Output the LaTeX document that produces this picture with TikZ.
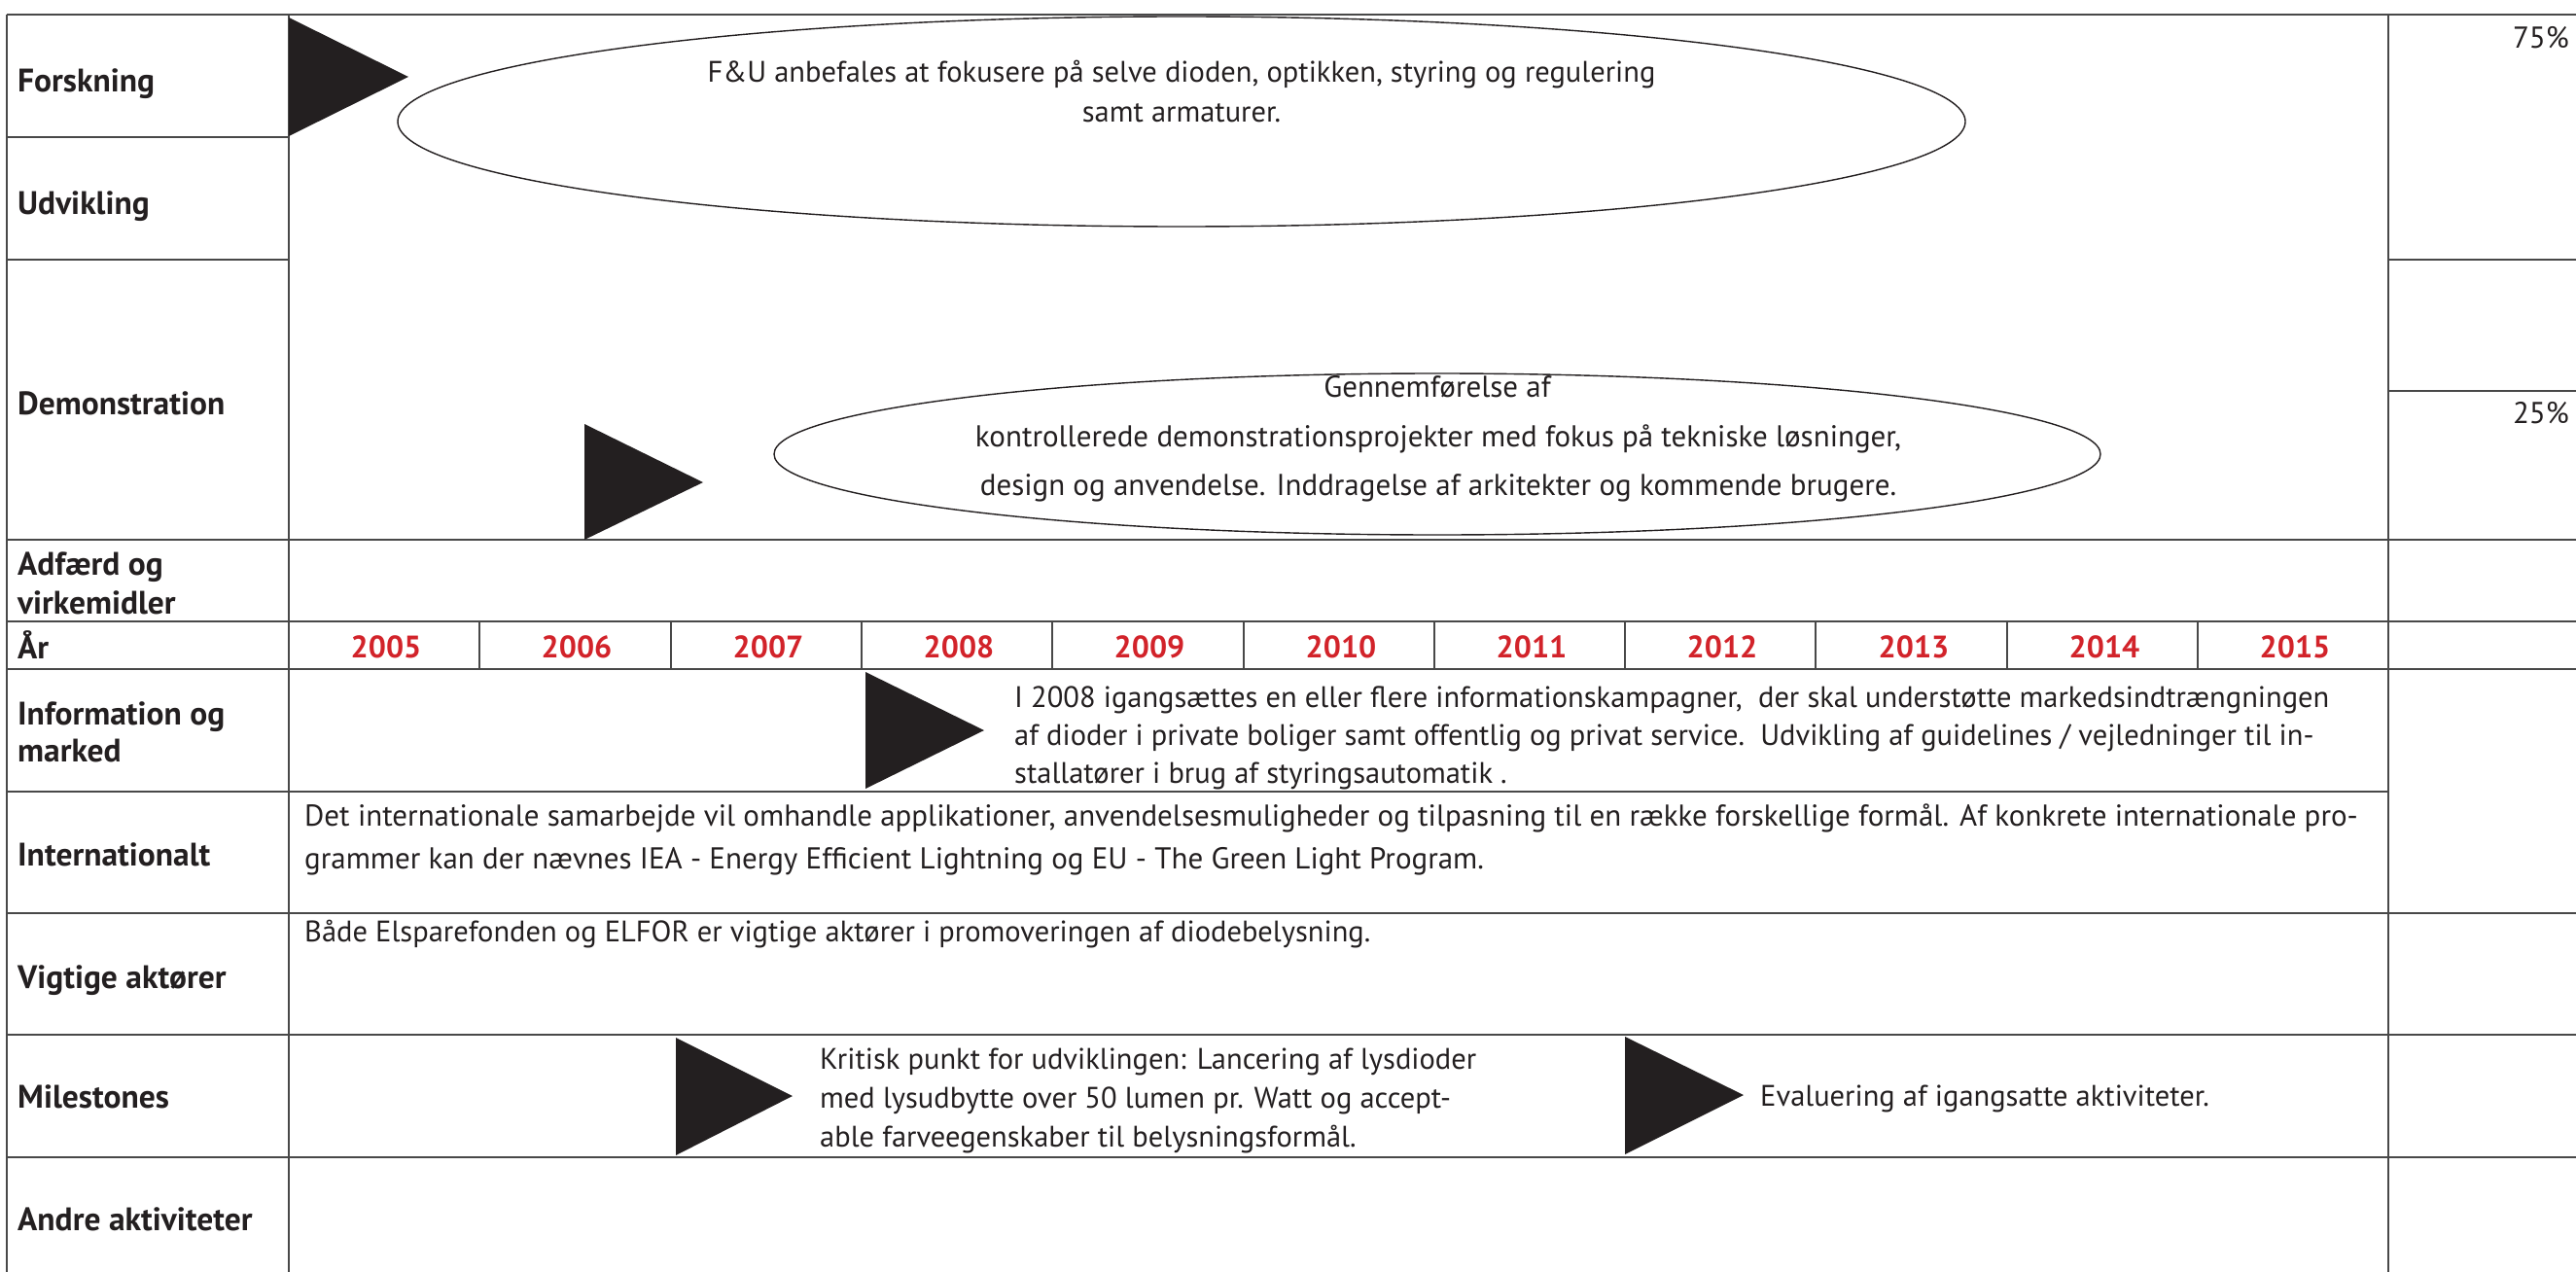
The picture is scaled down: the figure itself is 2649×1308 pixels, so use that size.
\documentclass[tikz,border=0pt]{standalone}
\usepackage{fontspec}
\setmainfont{PT Sans}
\usetikzlibrary{shapes.geometric}
\definecolor{ink}{RGB}{35,31,32}
\definecolor{rulegray}{RGB}{72,72,72}
\definecolor{yearred}{RGB}{210,35,42}

\begin{document}
\begin{tikzpicture}[x=1pt,y=-1pt,
  rulel/.style={draw=rulegray,line width=2.4pt},
  thinl/.style={draw=rulegray,line width=1.6pt},
  head/.style={anchor=base west,inner sep=0,text=ink,font=\fontsize{33.5}{33.5}\selectfont\bfseries},
  body/.style={anchor=base west,inner sep=0,text=ink,font=\fontsize{30.5}{30.5}\selectfont},
  mid/.style={body,anchor=base},
  year/.style={anchor=base,inner sep=0,text=yearred,font=\fontsize{32}{32}\selectfont\bfseries},
  bubble/.style={ellipse,draw=ink,line width=1.4pt,inner sep=0},
  flag/.style={fill=ink}]

  \useasboundingbox (0,0) rectangle (2649,1308);

  % table lines
  \draw[rulel] (7,15) -- (2649,15);
  \draw[rulel] (7,141) -- (297,141);
  \draw[rulel] (7,267) -- (297,267) (2456,267) -- (2649,267);
  \draw[rulel] (2456,402) -- (2649,402);
  \draw[rulel] (7,555) -- (2649,555) (7,639) -- (2649,639) (7,688) -- (2649,688);
  \draw[rulel] (7,814) -- (2456,814);
  \draw[rulel] (7,939) -- (2649,939) (7,1064) -- (2649,1064) (7,1190) -- (2649,1190);
  \draw[thinl] (7,15) -- (7,1308) (297,15) -- (297,1308) (2456,15) -- (2456,1308);
  \draw[thinl] (493,639) -- (493,688) (690,639) -- (690,688) (886,639) -- (886,688)
               (1082,639) -- (1082,688) (1279,639) -- (1279,688) (1475,639) -- (1475,688)
               (1671,639) -- (1671,688) (1867,639) -- (1867,688) (2064,639) -- (2064,688)
               (2260,639) -- (2260,688);

  % row headings
  \node[head] (forsk) at (18,95)   {Forskning};
  \node[head] (udv)   at (18,221)  {Udvikling};
  \node[head] (demo)  at (18,426)  {Demonstration};
  \node[head] (adf1)  at (18,591)  {Adfærd og};
  \node[head] (adf2)  at (18,631)  {virkemidler};
  \node[head] (aar)   at (18,677)  {År};
  \node[head] (inf1)  at (18,745)  {Information og};
  \node[head] (inf2)  at (18,783)  {marked};
  \node[head] (intl)  at (18,890)  {Internationalt};
  \node[head] (akt)   at (18,1016) {Vigtige aktører};
  \node[head] (mile)  at (18,1139) {Milestones};
  \node[head] (andre) at (18,1265) {Andre aktiviteter};

  % years
  \node[year] (y05) at (397,676)  {2005};
  \node[year] (y06) at (593,676)  {2006};
  \node[year] (y07) at (790,676)  {2007};
  \node[year] (y08) at (986,676)  {2008};
  \node[year] (y09) at (1182,676) {2009};
  \node[year] (y10) at (1379,676) {2010};
  \node[year] (y11) at (1575,676) {2011};
  \node[year] (y12) at (1771,676) {2012};
  \node[year] (y13) at (1968,676) {2013};
  \node[year] (y14) at (2164,676) {2014};
  \node[year] (y15) at (2360,676) {2015};

  % shares
  \node[body,anchor=base east,font=\fontsize{31}{31}\selectfont] (p75) at (2642,50)  {75\%};
  \node[body,anchor=base east,font=\fontsize{31}{31}\selectfont] (p25) at (2642,435) {25\%};

  % research
  \fill[flag] (297,18) -- (297,140) -- (420,79) -- cycle;
  \node[bubble,minimum width=1612pt,minimum height=216pt] (fou) at (1215,125) {};
  \node[mid] (fou1) at (1215,85)  {F\&U anbefales at fokusere på selve dioden, optikken, styring og regulering};
  \node[mid] (fou2) at (1215,126) {samt armaturer.};

  % demonstration
  \fill[flag] (601,436) -- (601,555) -- (723,496) -- cycle;
  \node[bubble,minimum width=1364pt,minimum height=166pt] (dem) at (1478,467) {};
  \node[mid,font=\fontsize{31}{31}\selectfont] (dem1) at (1478,408) {Gennemførelse af};
  \node[mid,font=\fontsize{31}{31}\selectfont] (dem2) at (1479,459) {kontrollerede demonstrationsprojekter med fokus på tekniske løsninger,};
  \node[mid,font=\fontsize{31}{31}\selectfont] (dem3) at (1479,509) {design og anvendelse. Inddragelse af arkitekter og kommende brugere.};

  % information
  \fill[flag] (890,691) -- (890,811) -- (1012,751) -- cycle;
  \begin{scope}
    \clip (297,688) rectangle (2456,812);
    \node[body] (kamp1) at (1043,727) {I 2008 igangsættes en eller flere informationskampagner,\ \ der skal understøtte markedsindtrængningen};
    \node[body] (kamp2) at (1043,766) {af dioder i private boliger samt offentlig og privat service.\ \ Udvikling af guidelines / vejledninger til in-};
    \node[body] (kamp3) at (1043,805) {stallatører i brug af styringsautomatik .};
  \end{scope}

  % international
  \node[body,font=\fontsize{31}{31}\selectfont] (int1) at (313,849) {Det internationale samarbejde vil omhandle applikationer, anvendelsesmuligheder og tilpasning til en række forskellige formål. Af konkrete internationale pro-};
  \node[body,font=\fontsize{31}{31}\selectfont] (int2) at (313,893) {grammer kan der nævnes IEA - Energy Efficient Lightning og EU - The Green Light Program.};

  % actors
  \node[body] (akt1) at (313,968) {Både Elsparefonden og ELFOR er vigtige aktører i promoveringen af diodebelysning.};

  % milestones
  \fill[flag] (695,1067) -- (695,1188) -- (815,1127) -- cycle;
  \node[body] (krit1) at (843,1099) {Kritisk punkt for udviklingen: Lancering af lysdioder};
  \node[body] (krit2) at (843,1139) {med lysudbytte over 50 lumen pr. Watt og accept-};
  \node[body] (krit3) at (843,1179) {able farveegenskaber til belysningsformål.};
  \fill[flag] (1671,1066) -- (1671,1187) -- (1793,1126) -- cycle;
  \node[body] (eval) at (1810,1137) {Evaluering af igangsatte aktiviteter.};
\end{tikzpicture}
\end{document}
